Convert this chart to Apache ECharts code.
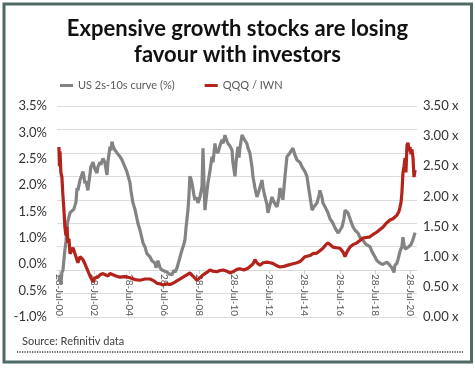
<!DOCTYPE html>
<html>
<head>
<meta charset="utf-8">
<script src="https://cdn.jsdelivr.net/npm/echarts@6/dist/echarts.min.js"></script>
<style>
html,body{margin:0;padding:0;background:#fff;}
#c{width:475px;height:369px;}
</style>
</head>
<body>
<div id="c"></div>
<script>
// US 2s-10s curve (%) — dates as decimal years
var grayDates = [2000.57,2000.63,2000.68,2000.74,2000.80,2000.85,2000.91,2000.97,2001.03,2001.08,2001.20,2001.31,2001.42,2001.48,2001.54,2001.60,2001.65,2001.77,2001.82,2001.94,2001.99,2002.05,2002.11,2002.22,2002.34,2002.39,2002.51,2002.62,2002.74,2002.79,2002.91,2002.96,2003.08,2003.19,2003.25,2003.31,2003.36,2003.48,2003.53,2003.59,2003.65,2003.76,2003.88,2004.05,2004.16,2004.33,2004.44,2004.62,2004.67,2004.79,2004.90,2005.07,2005.19,2005.36,2005.47,2005.58,2005.76,2005.87,2006.04,2006.10,2006.21,2006.33,2006.44,2006.55,2006.72,2006.84,2007.01,2007.12,2007.18,2007.29,2007.41,2007.58,2007.69,2007.75,2007.81,2007.92,2007.98,2008.03,2008.09,2008.15,2008.26,2008.32,2008.43,2008.49,2008.60,2008.72,2008.78,2008.83,2008.89,2008.95,2009.06,2009.17,2009.29,2009.35,2009.46,2009.52,2009.63,2009.74,2009.86,2009.92,2010.03,2010.09,2010.20,2010.31,2010.43,2010.48,2010.60,2010.66,2010.77,2010.83,2010.88,2011.00,2011.11,2011.28,2011.34,2011.45,2011.57,2011.62,2011.74,2011.85,2011.97,2012.14,2012.20,2012.31,2012.42,2012.48,2012.60,2012.71,2012.82,2012.99,2013.11,2013.16,2013.28,2013.33,2013.45,2013.56,2013.73,2013.90,2014.02,2014.13,2014.30,2014.42,2014.59,2014.70,2014.82,2014.99,2015.10,2015.27,2015.39,2015.44,2015.56,2015.61,2015.73,2015.90,2016.01,2016.18,2016.30,2016.47,2016.58,2016.70,2016.81,2016.87,2016.98,2017.04,2017.15,2017.32,2017.44,2017.61,2017.72,2017.89,2018.06,2018.29,2018.40,2018.58,2018.69,2018.86,2019.03,2019.26,2019.43,2019.54,2019.60,2019.66,2019.71,2019.83,2019.94,2020.00,2020.11,2020.17,2020.23,2020.29,2020.40,2020.51,2020.63,2020.74,2020.86];
var grayValues = [-0.25,-0.1,-0.3,-0.05,0.0,0.2,0.43,0.6,0.92,1.05,1.22,1.2,1.3,1.28,1.45,1.75,1.7,1.92,1.88,2.1,2.0,1.85,1.9,1.7,2.05,2.2,2.3,2.15,2.07,2.2,2.3,2.25,2.38,2.3,2.15,2.03,2.3,2.63,2.55,2.74,2.65,2.56,2.5,2.42,2.35,2.2,2.1,1.86,1.7,1.43,1.3,1.0,0.85,0.58,0.5,0.35,0.28,0.2,0.15,0.05,0.2,0.05,0.0,-0.02,-0.04,-0.08,-0.1,0.0,-0.05,0.04,0.2,0.43,0.55,0.64,0.9,1.28,1.6,2.0,1.95,1.86,1.6,1.5,1.55,1.43,1.55,1.78,2.6,1.9,1.28,1.5,1.86,2.1,2.42,2.3,2.7,2.55,2.5,2.65,2.78,2.7,2.88,2.8,2.7,2.65,2.56,2.3,2.0,2.3,2.63,2.4,2.6,2.88,2.8,2.7,2.6,2.5,2.2,2.0,1.75,1.56,1.7,1.92,1.75,1.56,1.4,1.22,1.4,1.56,1.45,1.35,1.55,1.75,1.6,1.5,2.0,2.42,2.5,2.6,2.45,2.35,2.3,2.2,2.1,2.0,1.7,1.28,1.35,1.43,1.6,1.7,1.55,1.43,1.35,1.22,1.1,1.0,0.9,0.79,0.85,0.92,1.1,1.28,1.25,1.22,1.1,0.92,0.85,0.79,0.7,0.64,0.55,0.5,0.4,0.28,0.2,0.15,0.12,0.17,0.1,0.05,0.0,-0.05,0.1,0.15,0.3,0.4,0.5,0.7,0.55,0.45,0.43,0.5,0.55,0.65,0.8];

// QQQ / IWN ratio (x)
var redDates = [2000.57,2000.60,2000.63,2000.68,2000.74,2000.80,2000.85,2000.91,2000.97,2001.03,2001.08,2001.14,2001.20,2001.31,2001.37,2001.48,2001.54,2001.65,2001.77,2001.88,2001.94,2002.05,2002.17,2002.22,2002.34,2002.45,2002.51,2002.62,2002.79,2002.91,2003.08,2003.19,2003.36,2003.48,2003.65,2003.82,2004.05,2004.33,2004.62,2004.90,2005.19,2005.47,2005.76,2005.98,2006.15,2006.33,2006.50,2006.72,2006.89,2007.07,2007.29,2007.46,2007.64,2007.86,2008.03,2008.20,2008.43,2008.60,2008.78,2009.00,2009.17,2009.35,2009.57,2009.74,2009.92,2010.14,2010.31,2010.48,2010.71,2010.88,2011.11,2011.34,2011.45,2011.62,2011.74,2011.85,2012.02,2012.20,2012.42,2012.60,2012.76,2012.99,2013.16,2013.39,2013.62,2013.85,2014.13,2014.30,2014.42,2014.59,2014.70,2014.87,2015.04,2015.27,2015.44,2015.61,2015.78,2015.90,2016.01,2016.18,2016.35,2016.58,2016.75,2016.87,2016.98,2017.15,2017.32,2017.55,2017.72,2017.89,2018.12,2018.29,2018.52,2018.69,2018.86,2019.03,2019.20,2019.43,2019.60,2019.83,2019.94,2020.00,2020.06,2020.11,2020.17,2020.23,2020.29,2020.34,2020.40,2020.46,2020.51,2020.57,2020.63,2020.68,2020.74,2020.80,2020.86];
var redValues = [2.82,2.5,2.75,2.4,2.32,2.0,1.8,1.49,1.35,1.5,1.23,1.3,1.05,1.06,1.15,1.16,1.0,0.9,1.0,1.03,0.95,0.88,0.8,0.78,0.68,0.62,0.58,0.65,0.66,0.7,0.72,0.73,0.68,0.72,0.7,0.68,0.66,0.67,0.65,0.62,0.61,0.63,0.63,0.6,0.56,0.55,0.53,0.55,0.54,0.56,0.6,0.63,0.66,0.7,0.73,0.68,0.61,0.65,0.7,0.74,0.78,0.76,0.75,0.77,0.78,0.76,0.73,0.75,0.79,0.8,0.78,0.81,0.83,0.88,0.95,0.9,0.86,0.9,0.91,0.9,0.89,0.85,0.83,0.84,0.86,0.88,0.9,0.92,0.95,1.0,1.03,1.02,1.05,1.06,1.1,1.14,1.2,1.23,1.2,1.16,1.15,1.14,1.08,1.0,1.08,1.16,1.2,1.23,1.27,1.31,1.32,1.33,1.38,1.41,1.45,1.49,1.55,1.61,1.63,1.69,1.75,1.82,1.9,2.06,2.39,2.5,2.64,2.4,2.85,2.89,2.75,2.82,2.7,2.78,2.65,2.32,2.44];

var xTickValues = [2000.57,2002.57,2004.57,2006.57,2008.57,2010.57,2012.57,2014.57,2016.57,2018.57,2020.57];
var xTickLabels = ['28-Jul-00','28-Jul-02','28-Jul-04','28-Jul-06','28-Jul-08','28-Jul-10','28-Jul-12','28-Jul-14','28-Jul-16','28-Jul-18','28-Jul-20'];
var leftTickLabels = ['-1.0%','0.5%','0.0%','1.0%','1.5%','2.0%','2.5%','3.0%','3.5%'];

function zip(a, b){ var r=[]; for (var i=0;i<a.length;i++) r.push([a[i], b[i]]); return r; }

var FONT = 'Lato, "Open Sans", sans-serif';
var X_MIN = 2000.46, X_MAX = 2020.97;
var chart = echarts.init(document.getElementById('c'), null, {renderer:'canvas'});
chart.setOption({
  animation: false,
  backgroundColor: '#fff',
  title: {
    text: 'Expensive growth stocks are losing\nfavour with investors',
    left: 'center', top: 11,
    textStyle: {fontFamily: FONT, fontWeight: 'bold', fontSize: 22, lineHeight: 26, color: '#111'}
  },
  legend: {
    top: 75, left: 55, itemGap: 30,
    icon: 'rect', itemWidth: 13, itemHeight: 3,
    textStyle: {fontFamily: FONT, fontSize: 11, color: '#595959'},
    data: ['US 2s-10s curve (%)', 'QQQ / IWN']
  },
  grid: [
    {left: 57, right: 58, top: 106, bottom: 52, containLabel: false},
    {left: 57, right: 58, top: 106, bottom: 99, containLabel: false}
  ],
  xAxis: [
    {type: 'value', gridIndex: 0, min: X_MIN, max: X_MAX,
     axisLine: {show: false}, axisTick: {show: false}, axisLabel: {show: false}, splitLine: {show: false}},
    {type: 'value', gridIndex: 1, min: X_MIN, max: X_MAX, position: 'bottom',
     axisLine: {show: true, onZero: false, lineStyle: {color: '#d9d9d9'}},
     axisTick: {show: true, length: 4, customValues: xTickValues, lineStyle: {color: '#cfcfcf'}},
     splitLine: {show: false},
     axisLabel: {
       customValues: xTickValues, rotate: -90, margin: 4,
       fontFamily: FONT, fontSize: 10, color: '#595959',
       formatter: function(v){ for (var i=0;i<xTickValues.length;i++){ if (Math.abs(xTickValues[i]-v)<0.01) return xTickLabels[i]; } return ''; }
     }}
  ],
  yAxis: [
    {type: 'value', gridIndex: 0, min: -1, max: 3.5, interval: 0.5, position: 'left',
     axisLabel: {show: false}, axisLine: {show: false}, axisTick: {show: false},
     splitLine: {show: true, lineStyle: {color: '#dcdcdc', width: 1}}},
    {type: 'value', gridIndex: 0, min: 0, max: 3.5, interval: 0.5, position: 'right',
     axisLine: {show: false}, axisTick: {show: false}, splitLine: {show: false},
     axisLabel: {margin: 6, fontFamily: FONT, fontSize: 13, color: '#333',
       formatter: function(v){ return v.toFixed(2) + ' x'; }}},
    {type: 'category', gridIndex: 0, data: leftTickLabels, boundaryGap: false, position: 'left',
     axisLine: {show: false}, axisTick: {show: false}, splitLine: {show: false},
     axisLabel: {margin: 10, fontFamily: FONT, fontSize: 13, color: '#333', interval: 0}},
    {type: 'value', gridIndex: 1, min: 0, max: 1, show: false}
  ],
  series: [
    {name: 'US 2s-10s curve (%)', type: 'line', xAxisIndex: 0, yAxisIndex: 0, showSymbol: false, symbol: 'none',
     data: zip(grayDates, grayValues), lineStyle: {color: '#838383', width: 3.2}, itemStyle: {color: '#838383'}},
    {name: 'QQQ / IWN', type: 'line', xAxisIndex: 0, yAxisIndex: 1, showSymbol: false, symbol: 'none',
     data: zip(redDates, redValues), lineStyle: {color: '#b3221b', width: 3.2}, itemStyle: {color: '#b3221b'}}
  ],
  graphic: [
    {type: 'rect', shape: {x: 4, y: 4, width: 467.5, height: 358}, style: {fill: 'none', stroke: '#4f6b66', lineWidth: 3}},
    {type: 'line', shape: {x1: 17, y1: 352, x2: 463, y2: 352}, style: {stroke: '#333', lineWidth: 1.5, lineDash: [1.2, 1.3]}},
    {type: 'text', left: 22, top: 336, style: {text: 'Source: Refinitiv data', fontFamily: FONT, fontSize: 11, fill: '#404040'}}
  ]
});
</script>
</body>
</html>
